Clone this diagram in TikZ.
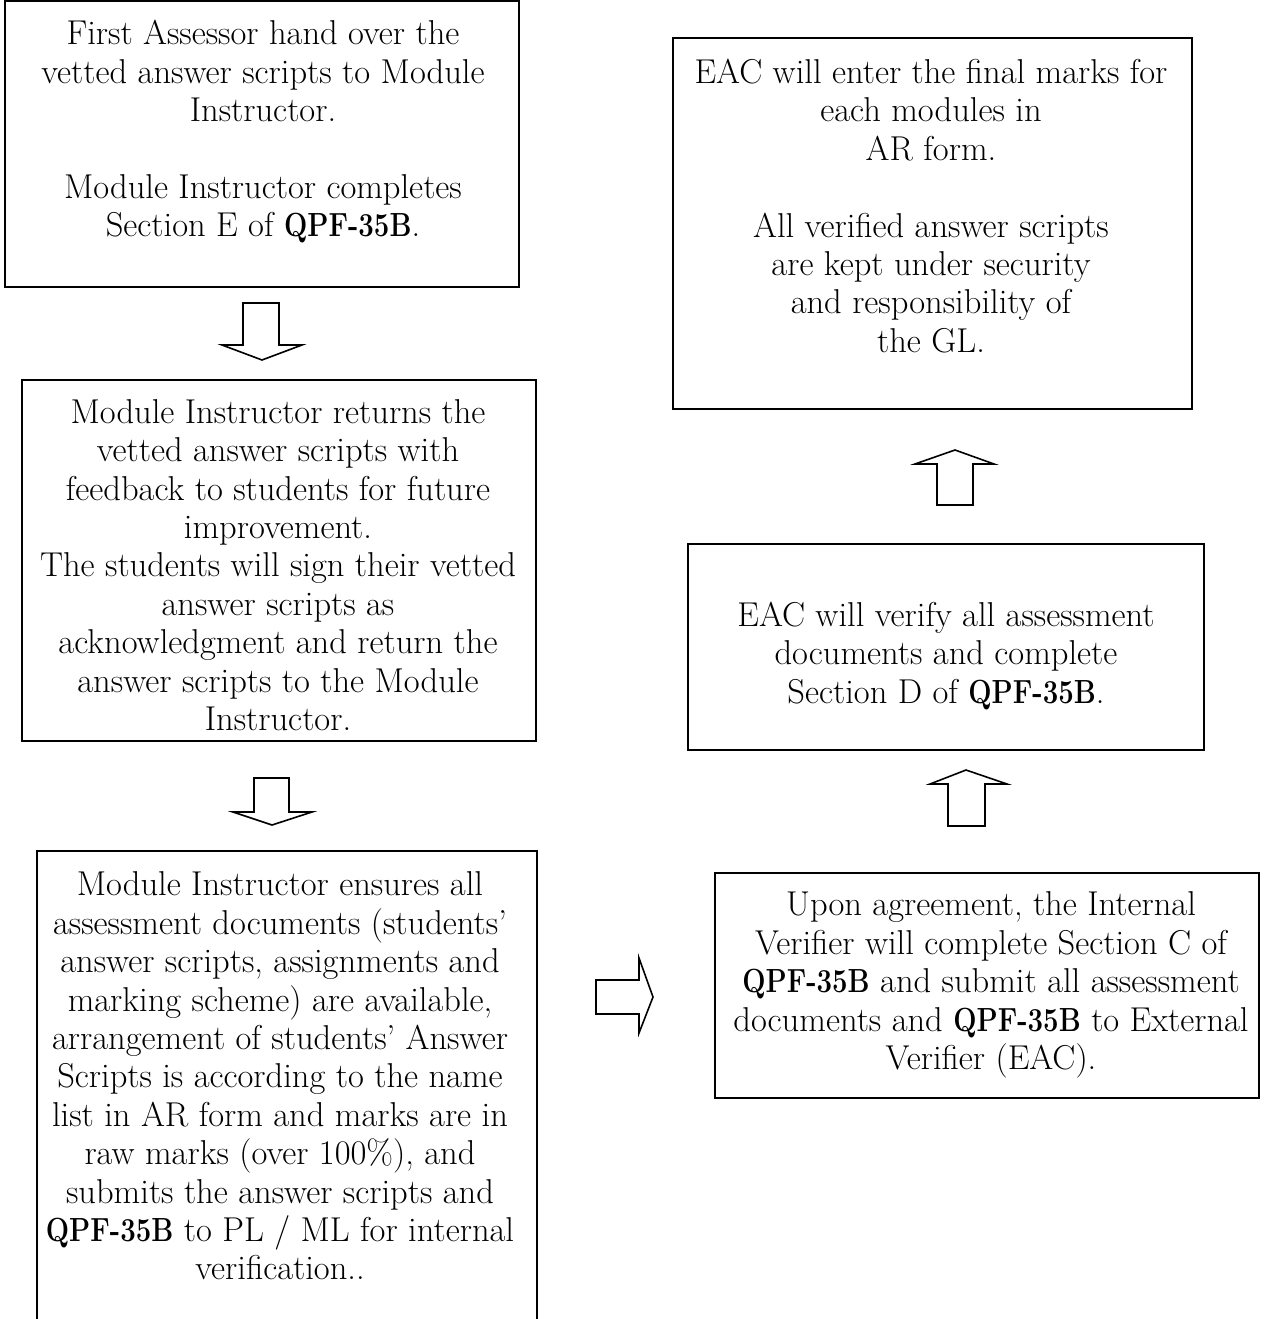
\documentclass[tikz,border=0pt]{standalone}
\usepackage{fontspec}
\begin{document}
\begin{tikzpicture}[x=1pt,y=-1pt,
  box/.style={draw=black,line width=1.6pt,rectangle,inner sep=0pt},
  txt/.style={align=center,inner sep=0pt,font=\fontsize{34.5}{38.4}\selectfont},
  blockarrow/.style={draw=black,line width=1.6pt,fill=white,line join=miter}]
\newcommand{\qpfb}{\scalebox{0.8}[0.97]{\textbf{QPF-35B}}}
\clip (0,0) rectangle (1268,1319);
\fill[white] (0,0) rectangle (1268,1319);

% boxes
\node[box,minimum width=514pt,minimum height=286pt] (b1) at (262,144) {};
\node[box,minimum width=514pt,minimum height=361pt] (b2) at (279,560.5) {};
\node[box,minimum width=500pt,minimum height=490pt] (b3) at (287,1096) {};
\node[box,minimum width=544pt,minimum height=225pt] (b4) at (987,985.5) {};
\node[box,minimum width=516pt,minimum height=206pt] (b5) at (946,647) {};
\node[box,minimum width=519pt,minimum height=371pt] (b6) at (932.5,223.5) {};

% texts
\node[txt] (t1) at (263,132) {First Assessor hand over the\\vetted answer scripts to Module\\Instructor.\\\mbox{}\\Module Instructor completes\\Section E of \qpfb.};
\node[txt] (t2) at (278,565) {Module Instructor returns the\\vetted answer scripts with\\feedback to students for future\\improvement.\\The students will sign their vetted\\answer scripts as\\acknowledgment and return the\\answer scripts to the Module\\Instructor.};
\node[txt] (t3) at (280,1076) {Module Instructor ensures all\\assessment documents (students’\\answer scripts, assignments and\\marking scheme) are available,\\arrangement of students’ Answer\\Scripts is according to the name\\list in AR form and marks are in\\raw marks (over 100\%), and\\submits the answer scripts and\\\qpfb{} to PL / ML for internal\\verification..};
\node[txt] (t4) at (991,985) {Upon agreement, the Internal\\Verifier will complete Section C of\\\qpfb{} and submit all assessment\\documents and \qpfb{} to External\\Verifier (EAC).};
\node[txt] (t5) at (946,656) {EAC will verify all assessment\\documents and complete\\Section D of \qpfb.};
\node[txt] (t6) at (931,206) {EAC will enter the final marks for\\each modules in\\AR form.\\\mbox{}\\All verified answer scripts\\are kept under security\\and responsibility of\\the GL.};

% block arrows
\coordinate (a1) at (262,360);
\draw[blockarrow] (243,303) -- (279,303) -- (279,345) -- (302,345) -- (a1) -- (222,345) -- (243,345) -- cycle;
\coordinate (a2) at (272,825);
\draw[blockarrow] (254,778) -- (289,778) -- (289,812) -- (312,812) -- (a2) -- (233,812) -- (254,812) -- cycle;
\coordinate (a3) at (653,997);
\draw[blockarrow] (596,980) -- (639,980) -- (639,958) -- (a3) -- (639,1033) -- (639,1014) -- (596,1014) -- cycle;
\coordinate (a4) at (955,450);
\draw[blockarrow] (937,505) -- (973,505) -- (973,464) -- (994,464) -- (a4) -- (915,464) -- (937,464) -- cycle;
\coordinate (a5) at (966,770);
\draw[blockarrow] (948,826) -- (985,826) -- (985,784) -- (1007,784) -- (a5) -- (930,784) -- (948,784) -- cycle;
\end{tikzpicture}
\end{document}
